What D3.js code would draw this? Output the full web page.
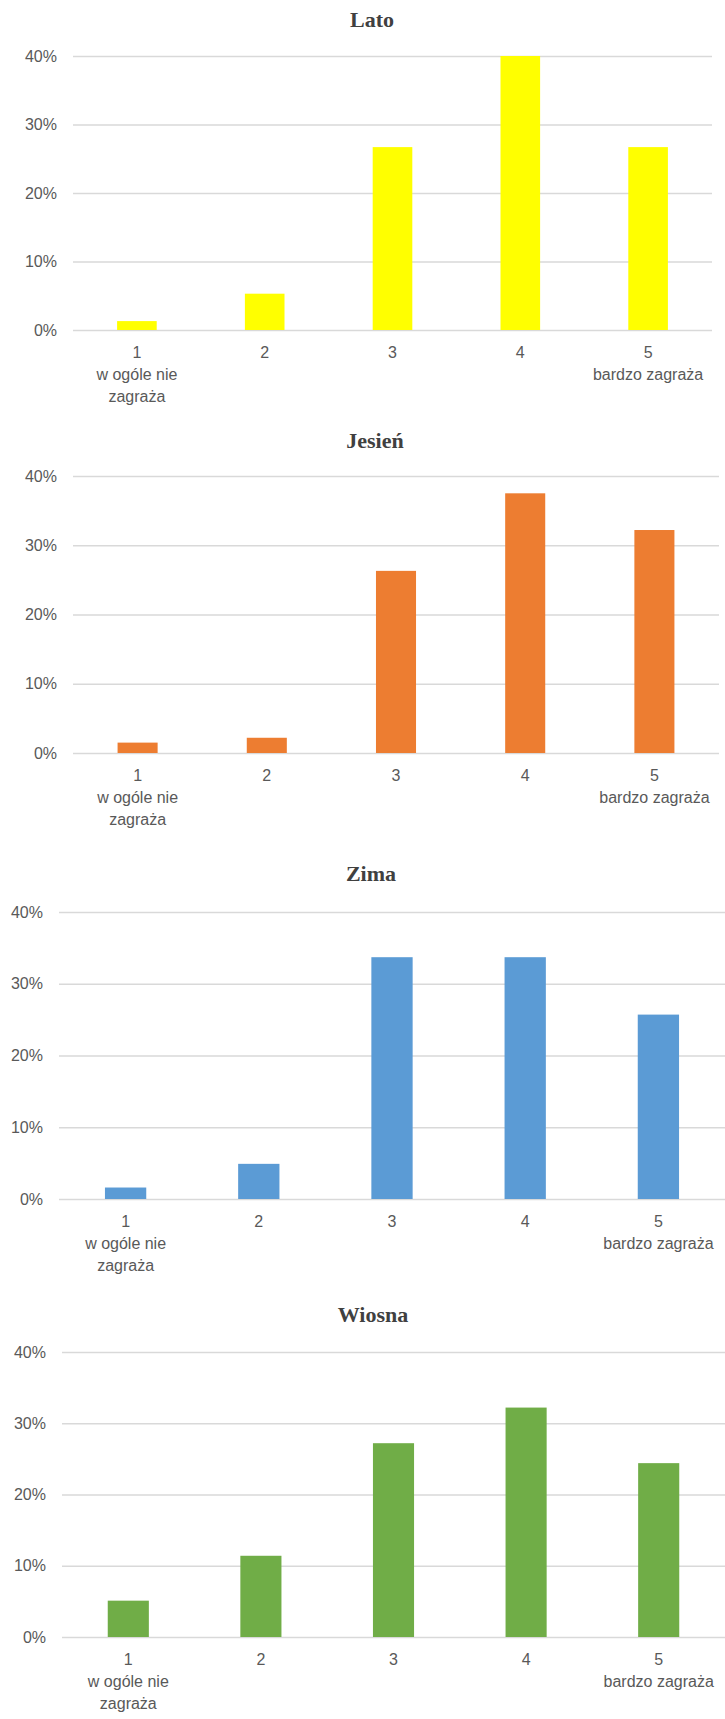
<!DOCTYPE html>
<html>
<head>
<meta charset="utf-8">
<script src="https://cdn.jsdelivr.net/npm/d3@7"></script>
<style>
  html, body { margin: 0; padding: 0; background: #fff; }
  svg { display: block; }
</style>
</head>
<body>
<svg id="chart" width="725" height="1719"></svg>
<script>
// ---- data ----
const categories = ["1", "2", "3", "4", "5"];
const categorySubLabels = [["w ogóle nie", "zagraża"], [], [], [], ["bardzo zagraża"]];
const yTicks = [0, 10, 20, 30, 40];
const titles = ["Lato", "Jesień", "Zima", "Wiosna"];
const lato = [1.3, 5.3, 26.7, 40.0, 26.7];
const jesien = [1.5, 2.2, 26.3, 37.5, 32.2];
const zima = [1.6, 4.9, 33.7, 33.7, 25.7];
const wiosna = [5.1, 11.4, 27.2, 32.2, 24.4];
const seriesValues = [lato, jesien, zima, wiosna];
const colors = ["#FFFF00", "#ED7D31", "#5B9BD5", "#70AD47"];

// ---- layout for each panel ----
const panels = [
  { titleX: 372, titleY: 27,   top: 56,   bottom: 330,  left: 73, right: 712 },
  { titleX: 375, titleY: 448,  top: 476,  bottom: 753,  left: 73, right: 719 },
  { titleX: 371, titleY: 881,  top: 912,  bottom: 1199, left: 59, right: 725 },
  { titleX: 373, titleY: 1322, top: 1352, bottom: 1637, left: 62, right: 725 }
];

const svg = d3.select("#chart");
const textColor = "#595959";
const gridColor = "#d9d9d9";

panels.forEach((p, i) => {
  const values = seriesValues[i];
  const x = d3.scaleBand().domain(categories).range([p.left, p.right])
    .paddingInner(0.69).paddingOuter(0.345);
  const y = d3.scaleLinear().domain([0, 40]).range([p.bottom, p.top]);

  const g = svg.append("g");

  // title
  g.append("text")
    .attr("x", p.titleX).attr("y", p.titleY)
    .attr("text-anchor", "middle")
    .attr("font-family", "'Liberation Serif', 'DejaVu Serif', serif")
    .attr("font-weight", "bold")
    .attr("font-size", 22)
    .attr("fill", "#404040")
    .text(titles[i]);

  // y axis with gridlines
  const yAxis = d3.axisLeft(y)
    .tickValues(yTicks)
    .tickFormat(d => d + "%")
    .tickSize(-(p.right - p.left))
    .tickPadding(16);
  const ya = g.append("g")
    .attr("transform", `translate(${p.left},0)`)
    .call(yAxis);
  ya.select(".domain").remove();
  ya.selectAll(".tick line").attr("stroke", gridColor).attr("stroke-width", 1.4);
  ya.selectAll(".tick text")
    .attr("fill", textColor)
    .attr("font-family", "'Liberation Sans', Arial, sans-serif")
    .attr("font-size", 16);

  // bars
  g.selectAll("rect.bar")
    .data(values)
    .join("rect")
    .attr("class", "bar")
    .attr("x", (d, j) => x(categories[j]))
    .attr("width", x.bandwidth())
    .attr("y", d => y(d))
    .attr("height", d => y(0) - y(d))
    .attr("fill", colors[i]);

  // x axis labels
  const xAxis = d3.axisBottom(x).tickSize(0).tickPadding(0).tickFormat("");
  const xa = g.append("g")
    .attr("transform", `translate(0,${p.bottom})`)
    .call(xAxis);
  xa.select(".domain").remove();
  xa.selectAll(".tick").each(function(d, j) {
    const t = d3.select(this).append("text")
      .attr("text-anchor", "middle")
      .attr("fill", textColor)
      .attr("font-family", "'Liberation Sans', Arial, sans-serif")
      .attr("font-size", 16)
      .attr("y", 28);
    t.append("tspan").attr("x", 0).text(d);
    categorySubLabels[j].forEach(s => {
      t.append("tspan").attr("x", 0).attr("dy", 22).text(s);
    });
  });
});
</script>
</body>
</html>
